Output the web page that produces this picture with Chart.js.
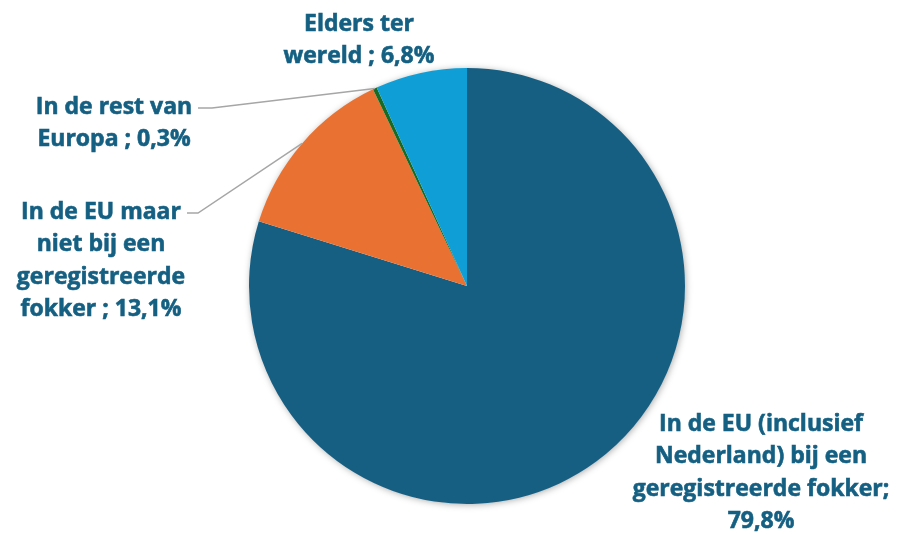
<!DOCTYPE html>
<html>
<head>
<meta charset="utf-8">
<script src="https://cdn.jsdelivr.net/npm/chart.js@4"></script>
<style>
  html, body { margin: 0; padding: 0; background: #fff; }
  #wrap { width: 899px; height: 534px; }
</style>
</head>
<body>
<div id="wrap"><canvas id="pieChart"></canvas></div>
<script>
const categories = [
    ['In de EU (inclusief', 'Nederland) bij een', 'geregistreerde fokker;'],
    ['In de EU maar', 'niet bij een', 'geregistreerde', 'fokker'],
    ['In de rest van', 'Europa'],
    ['Elders ter', 'wereld']
];
const values = [79.8, 13.1, 0.3, 6.8];
const valueLabels = ['79,8%', '13,1%', '0,3%', '6,8%'];
const colors = ['#175F82', '#E97132', '#196B24', '#0F9ED5'];

// where each label block sits (centre x, first baseline y) and whether it gets a leader line
const labelPos = [
    { x: 761, y: 431, leader: false, ownLine: true },
    { x: 101, y: 219, leader: true, elbow: 198, end: 187 },
    { x: 114, y: 114, leader: true, elbow: 212, end: 198 },
    { x: 359, y: 31, leader: false }
];

const shadowPlugin = {
    id: 'pieShadow',
    beforeDatasetsDraw(chart) {
        const arc = chart.getDatasetMeta(0).data[0];
        if (!arc) return;
        const c = chart.ctx;
        c.save();
        c.shadowColor = 'rgba(0,0,0,0.35)';
        c.shadowBlur = 7;
        c.shadowOffsetX = 1;
        c.shadowOffsetY = 1;
        c.fillStyle = '#fff';
        c.beginPath();
        c.arc(arc.x, arc.y, arc.outerRadius - 0.5, 0, Math.PI * 2);
        c.fill();
        c.restore();
    }
};

const labelPlugin = {
    id: 'sliceLabels',
    afterDatasetsDraw(chart) {
        const c = chart.ctx;
        const meta = chart.getDatasetMeta(0);
        c.save();
        c.font = 'bold 23px "Open Sans", sans-serif';
        c.fillStyle = '#156082';
        c.strokeStyle = '#156082';
        c.lineWidth = 0.6;
        c.textAlign = 'center';
        c.textBaseline = 'alphabetic';
        const lh = 32.4;
        meta.data.forEach((arc, i) => {
            const p = labelPos[i];
            const lines = categories[i].slice();
            if (p.ownLine) {
                lines.push(valueLabels[i]);
            } else {
                lines[lines.length - 1] += ' ; ' + valueLabels[i];
            }
            lines.forEach((t, k) => {
                c.fillText(t, p.x, p.y + k * lh);
                c.strokeText(t, p.x, p.y + k * lh);
            });

            if (p.leader) {
                const mid = (arc.startAngle + arc.endAngle) / 2;
                const sx = arc.x + Math.cos(mid) * arc.outerRadius;
                const sy = arc.y + Math.sin(mid) * arc.outerRadius;
                const ly = p.y - 6;
                c.save();
                c.strokeStyle = '#A6A6A6';
                c.lineWidth = 1.5;
                c.beginPath();
                c.moveTo(sx, sy);
                c.lineTo(p.elbow, ly);
                c.lineTo(p.end, ly);
                c.stroke();
                c.restore();
            }
        });
        c.restore();
    }
};

new Chart(document.getElementById('pieChart'), {
    type: 'pie',
    data: {
        labels: categories.map(l => l.join(' ')),
        datasets: [{
            data: values,
            backgroundColor: colors,
            borderWidth: 0
        }]
    },
    options: {
        responsive: true,
        maintainAspectRatio: false,
        animation: false,
        layout: {
            padding: { top: 68, bottom: 30, left: 35, right: 0 }
        },
        plugins: {
            legend: { display: false },
            tooltip: { enabled: false }
        }
    },
    plugins: [shadowPlugin, labelPlugin]
});
</script>
</body>
</html>
